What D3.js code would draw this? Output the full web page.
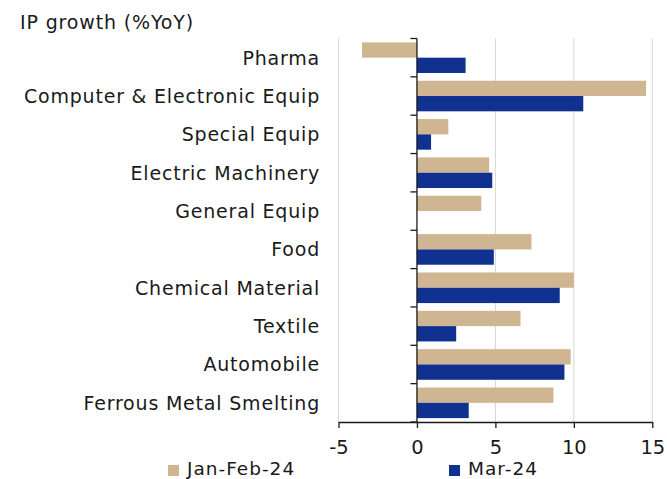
<!DOCTYPE html>
<html lang="en">
<head>
<meta charset="UTF-8">
<script src="https://d3js.org/d3.v7.min.js"></script>
<title>IP growth</title>
<style>
  body { margin: 0; background: #fff; }
  text { font-family: "DejaVu Sans", sans-serif; fill: #1a1a1a; }
</style>
</head>
<body>
<div id="chart"></div>
<script>
// data
const categories = ["Pharma", "Computer & Electronic Equip", "Special Equip", "Electric Machinery",
  "General Equip", "Food", "Chemical Material", "Textile", "Automobile", "Ferrous Metal Smelting"];
const seriesNames = ["Jan-Feb-24", "Mar-24"];
const janFeb = [-3.5, 14.6, 2.0, 4.6, 4.1, 7.3, 10.0, 6.6, 9.8, 8.7];
const mar = [3.1, 10.6, 0.9, 4.8, 0, 4.9, 9.1, 2.5, 9.4, 3.3];
const xTicks = [-5, 0, 5, 10, 15];
const colors = ["#cfb592", "#10318f"];

const W = 667, H = 479;
const plotLeft = 338.5, plotRight = 652.3, plotTop = 38.5, plotBottom = 422;

const svg = d3.select("#chart").append("svg").attr("width", W).attr("height", H);

const x = d3.scaleLinear().domain([-5, 15]).range([plotLeft, plotRight]);
const y = d3.scaleBand().domain(categories).range([plotTop, plotBottom]);
const barH = 15.3;

// gridlines
svg.append("g").selectAll("line").data(xTicks.filter(d => d !== 0)).join("line")
  .attr("x1", d => x(d)).attr("x2", d => x(d))
  .attr("y1", plotTop).attr("y2", plotBottom)
  .attr("stroke", "#d6d6d6").attr("stroke-width", 1);

// bars
const rows = categories.map((c, i) => ({ cat: c, vals: [janFeb[i], mar[i]] }));
const g = svg.append("g");
rows.forEach(r => {
  r.vals.forEach((v, j) => {
    if (v === 0) return;
    g.append("rect")
      .attr("x", x(Math.min(0, v)))
      .attr("width", Math.abs(x(v) - x(0)))
      .attr("y", y(r.cat) + (y.bandwidth() - 2 * barH) / 2 + j * barH)
      .attr("height", barH)
      .attr("fill", colors[j]);
  });
});

// category axis at zero
svg.append("line")
  .attr("x1", x(0)).attr("x2", x(0)).attr("y1", plotTop).attr("y2", plotBottom)
  .attr("stroke", "#1a1a1a").attr("stroke-width", 1.3);
svg.append("g").selectAll("line").data(d3.range(categories.length + 1)).join("line")
  .attr("x1", x(0) - 6.5).attr("x2", x(0))
  .attr("y1", i => plotTop + i * y.step()).attr("y2", i => plotTop + i * y.step())
  .attr("stroke", "#1a1a1a").attr("stroke-width", 1.3);

// category labels
svg.append("g").selectAll("text").data(categories).join("text")
  .attr("x", 320).attr("y", d => y(d) + y.bandwidth() / 2)
  .attr("dy", "0.36em").attr("text-anchor", "end")
  .style("font-size", "19px").style("letter-spacing", "0.8px").text(d => d);

// x axis
const xAxis = svg.append("g").attr("transform", `translate(0,${plotBottom})`)
  .call(d3.axisBottom(x).tickValues(xTicks).tickFormat(d => String(d))
    .tickSize(6).tickSizeOuter(0).tickPadding(12));
xAxis.select(".domain").attr("stroke", "#1a1a1a").attr("stroke-width", 1.3);
xAxis.selectAll(".tick line").attr("stroke", "#1a1a1a").attr("stroke-width", 1.3);
xAxis.selectAll("text").style("font-size", "19.5px").style("font-family", "DejaVu Sans").attr("fill", "#1a1a1a");

// title
svg.append("text").attr("x", 20).attr("y", 29)
  .style("font-size", "19px").style("letter-spacing", "0.85px").text("IP growth (%YoY)");

// legend
const legX = [168, 449];
const leg = svg.append("g").selectAll("g").data(seriesNames).join("g")
  .attr("transform", (d, i) => `translate(${legX[i]},465)`);
leg.append("rect").attr("width", 11).attr("height", 11).attr("fill", (d, i) => colors[i]);
leg.append("text").attr("x", 19).attr("y", 9.5)
  .style("font-size", "18.5px").style("letter-spacing", "1px").text(d => d);
</script>
</body>
</html>
